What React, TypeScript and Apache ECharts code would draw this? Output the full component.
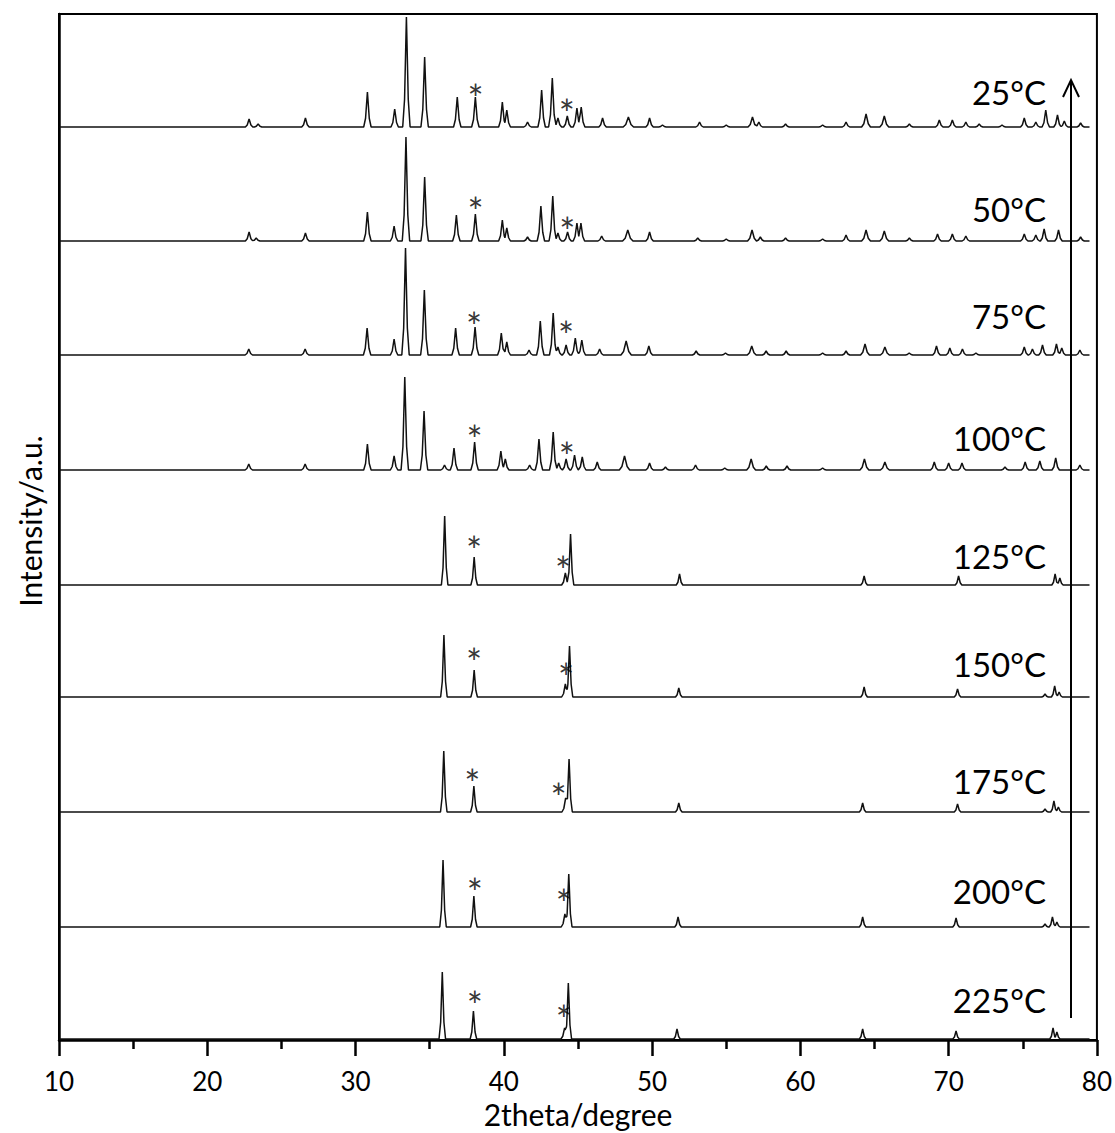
import React, { useEffect, useRef } from "react";
import * as echarts from "echarts";

// ---------- data ----------
const xTickValues = [10, 20, 30, 40, 50, 60, 70, 80];
const temperatures = ["25°C", "50°C", "75°C", "100°C", "125°C", "150°C", "175°C", "200°C", "225°C"];
// vertical stacking offset of each pattern (a.u.)
const baselineOffsets = [913, 799, 685, 570, 455, 343, 228, 113, 1];
const scanStart = 10.05;
const scanEnd = 79.5;

// peaks: [2theta, height (a.u.), optional half-width (deg)]
const peaks25: number[][] = [
  [22.82, 8], [23.43, 3], [26.62, 9],
  [30.8, 35], [32.64, 18], [33.43, 110], [34.66, 70], [36.86, 30], [38.08, 30],
  [39.9, 25], [40.2, 17], [41.6, 5], [42.55, 37], [43.27, 49], [43.65, 9], [44.28, 11],
  [44.93, 19], [45.22, 20], [46.66, 9], [48.4, 10, 0.35], [49.83, 9], [50.7, 2],
  [53.2, 5], [55.0, 2], [56.77, 10, 0.3], [57.2, 5], [59.0, 3], [61.5, 2], [63.08, 5],
  [64.43, 13, 0.3], [65.66, 11, 0.3], [67.35, 3], [69.37, 7], [70.25, 7], [71.16, 5],
  [72.06, 3], [73.6, 2], [75.1, 9], [75.88, 5], [76.55, 17], [77.34, 12], [77.8, 6], [78.9, 4],
];
const peaks50: number[][] = [
  [22.82, 9], [23.3, 3], [26.62, 8],
  [30.8, 29], [32.6, 15], [33.4, 104], [34.66, 64], [36.8, 26], [38.08, 27],
  [39.9, 21], [40.2, 13], [41.6, 4], [42.5, 35], [43.3, 45], [43.65, 8], [44.3, 9],
  [44.93, 18], [45.2, 18], [46.6, 5], [48.36, 11, 0.35], [49.83, 9], [53.08, 3],
  [55.0, 2], [56.74, 11, 0.3], [57.3, 4], [59.0, 3], [61.5, 2], [63.08, 6],
  [64.43, 11, 0.3], [65.66, 10, 0.3], [67.35, 3], [69.25, 7], [70.25, 7], [71.16, 5],
  [75.1, 7], [75.88, 6], [76.44, 12], [77.41, 11], [78.9, 4],
];
const peaks75: number[][] = [
  [22.8, 6], [26.6, 6],
  [30.78, 27], [32.6, 16], [33.37, 107], [34.64, 65], [36.75, 27], [38.06, 28],
  [39.83, 22], [40.2, 13], [41.7, 5], [42.46, 34], [43.33, 42], [43.65, 8], [44.2, 10],
  [44.82, 17], [45.26, 15], [46.46, 6], [48.25, 14, 0.35], [49.78, 9], [52.97, 4],
  [54.95, 2], [56.72, 9, 0.3], [57.69, 4], [59.04, 4], [61.5, 2], [63.08, 4],
  [64.36, 11, 0.3], [65.7, 8, 0.3], [67.34, 2], [69.18, 9], [70.08, 7], [70.93, 6],
  [71.84, 2], [75.1, 8], [75.65, 6], [76.33, 10], [77.27, 11], [77.63, 7], [78.85, 5],
];
const peaks100: number[][] = [
  [22.8, 6], [26.6, 6],
  [30.8, 26], [32.6, 14], [33.32, 93], [34.62, 59], [36.0, 5], [36.64, 22], [38.03, 28],
  [39.8, 19], [40.1, 11], [41.74, 5], [42.37, 31], [43.33, 38], [43.7, 7], [44.2, 11],
  [44.77, 15], [45.29, 13], [46.3, 8], [48.14, 14, 0.35], [49.83, 7], [50.9, 3],
  [52.93, 5], [54.9, 2], [56.68, 11, 0.3], [57.7, 4], [59.1, 4], [61.5, 2],
  [64.32, 11, 0.3], [65.7, 8, 0.3], [69.03, 8], [70.0, 7], [70.9, 7], [73.8, 3],
  [75.16, 8], [76.15, 9], [77.22, 12], [78.85, 5],
];
const peaks125: number[][] = [
  [36.01, 69], [38.0, 28], [44.15, 12, 0.25], [44.5, 51], [51.85, 11], [64.3, 9],
  [70.67, 9], [77.18, 11], [77.5, 7],
];
const peaks150: number[][] = [
  [35.96, 62], [38.0, 27], [44.15, 13, 0.25], [44.43, 51], [51.8, 9], [64.3, 10],
  [70.6, 8], [76.5, 3], [77.15, 11], [77.45, 5],
];
const peaks175: number[][] = [
  [35.95, 61], [37.98, 26], [44.17, 14, 0.25], [44.4, 53], [51.8, 9], [64.2, 9],
  [70.6, 8], [76.5, 3], [77.1, 11], [77.4, 5],
];
const peaks200: number[][] = [
  [35.9, 67], [37.98, 31], [44.12, 13, 0.25], [44.38, 53], [51.75, 10], [64.2, 10],
  [70.5, 9], [76.5, 3], [77.0, 10], [77.3, 5],
];
const peaks225: number[][] = [
  [35.85, 67], [37.95, 28], [44.1, 11, 0.25], [44.35, 56], [51.68, 10], [64.2, 10],
  [70.5, 8], [77.04, 11], [77.3, 7],
];
const allPeaks = [peaks25, peaks50, peaks75, peaks100, peaks125, peaks150, peaks175, peaks200, peaks225];
const defaultHalfWidths = [0.25, 0.25, 0.25, 0.25, 0.22, 0.22, 0.22, 0.22, 0.22];

// asterisk marks: [pattern index, 2theta, height above baseline (a.u.)]
const starMarks: number[][] = [
  [0, 38.1, 38], [0, 44.25, 23],
  [1, 38.1, 39], [1, 44.28, 19],
  [2, 38.0, 38], [2, 44.2, 29],
  [3, 38.03, 40], [3, 44.25, 23],
  [4, 38.0, 44], [4, 44.0, 24],
  [5, 38.0, 44], [5, 44.2, 29],
  [6, 37.87, 38], [6, 43.7, 24],
  [7, 38.05, 44], [7, 44.05, 33],
  [8, 38.05, 43], [8, 44.05, 29],
];

// ---------- helpers ----------
function peakShape(d: number, h: number, hw: number): number {
  const a = Math.abs(d) / hw;
  if (a >= 1) return 0;
  if (a <= 0.5) return h * (1 - 1.5 * a);
  return 0.5 * h * (1 - a);
}

function buildTrace(peaks: number[][], hw: number, offset: number): number[][] {
  const xs = new Set<number>([scanStart, scanEnd]);
  peaks.forEach((pk) => {
    const w = pk[2] ?? hw;
    [-1, -0.5, 0, 0.5, 1].forEach((f) => xs.add(+(pk[0] + f * w).toFixed(4)));
  });
  const sorted = Array.from(xs).filter((x) => x >= scanStart && x <= scanEnd).sort((a, b) => a - b);
  return sorted.map((x) => {
    let y = 0;
    peaks.forEach((pk) => {
      const v = peakShape(x - pk[0], pk[1], pk[2] ?? hw);
      if (v > y) y = v;
    });
    return [x, y + offset];
  });
}

const FONT = "Lato, 'Open Sans', sans-serif";
const labelCenters = [92, 209, 316, 438, 556, 664, 781, 891, 1000];

export default function App() {
  const ref = useRef<HTMLDivElement>(null);
  useEffect(() => {
    if (!ref.current) return;
    const chart = echarts.init(ref.current, null, { renderer: "svg" });
    const series: any[] = allPeaks.map((pk, i) => ({
      type: "line",
      name: temperatures[i],
      data: buildTrace(pk, defaultHalfWidths[i], baselineOffsets[i]),
      symbol: "none",
      showSymbol: false,
      silent: true,
      lineStyle: { color: "#111", width: 1.5 },
      z: 3,
    }));
    series.push({
      type: "scatter",
      data: starMarks.map((s) => [s[1], baselineOffsets[s[0]] + s[2]]),
      symbol: "circle",
      symbolSize: 1,
      itemStyle: { color: "rgba(0,0,0,0)" },
      silent: true,
      label: {
        show: true,
        position: "inside",
        formatter: "*",
        fontSize: 38,
        fontFamily: FONT,
        color: "#000",
        textBorderWidth: 0,
        textBorderColor: "transparent",
        offset: [0, 9],
      },
      z: 4,
    });

    const graphic: any[] = temperatures.map((t, i) => ({
      type: "text",
      x: 1046,
      y: labelCenters[i],
      style: {
        text: t,
        fontSize: 33,
        fontFamily: FONT,
        fill: "#000",
        align: "right",
        verticalAlign: "middle",
      },
      z: 10,
    }));
    graphic.push(
      {
        type: "text",
        x: 578,
        y: 1114,
        style: { text: "2theta/degree", fontSize: 30, fontFamily: FONT, fill: "#000", align: "center", verticalAlign: "middle" },
      },
      {
        type: "text",
        x: 30,
        y: 521,
        rotation: Math.PI / 2,
        style: { text: "Intensity/a.u.", fontSize: 30, fontFamily: FONT, fill: "#000", align: "center", verticalAlign: "middle" },
      },
      {
        type: "line",
        shape: { x1: 1071, y1: 1018, x2: 1071, y2: 81 },
        style: { stroke: "#000", lineWidth: 2 },
        z: 10,
      },
      {
        type: "polyline",
        shape: { points: [[1063, 97], [1071, 80], [1079, 97]] },
        style: { stroke: "#000", lineWidth: 2, fill: null },
        z: 10,
      }
    );

    chart.setOption({
      animation: false,
      backgroundColor: "#fff",
      grid: { left: 59, top: 14, width: 1039, height: 1026, show: true, borderColor: "#000", borderWidth: 2, backgroundColor: "transparent" },
      xAxis: {
        type: "value",
        min: xTickValues[0],
        max: xTickValues[xTickValues.length - 1],
        interval: 10,
        axisLine: { show: true, onZero: false, lineStyle: { color: "#000", width: 2.5 } },
        axisTick: { show: true, length: 16, lineStyle: { color: "#000", width: 2.5 } },
        minorTick: { show: true, splitNumber: 2, length: 9, lineStyle: { color: "#000", width: 2.5 } },
        splitLine: { show: false },
        axisLabel: { fontSize: 26, fontFamily: FONT, color: "#000", margin: 28 },
      },
      yAxis: {
        type: "value",
        min: 0,
        max: 1026,
        axisLine: { show: true, lineStyle: { color: "#000", width: 2.5 } },
        axisTick: { show: false },
        axisLabel: { show: false },
        splitLine: { show: false },
      },
      series,
      graphic,
    });
    return () => chart.dispose();
  }, []);
  return (
    <div
      ref={ref}
      style={{ position: "fixed", left: 0, top: 0, width: 1115, height: 1133, background: "#fff" }}
    />
  );
}
